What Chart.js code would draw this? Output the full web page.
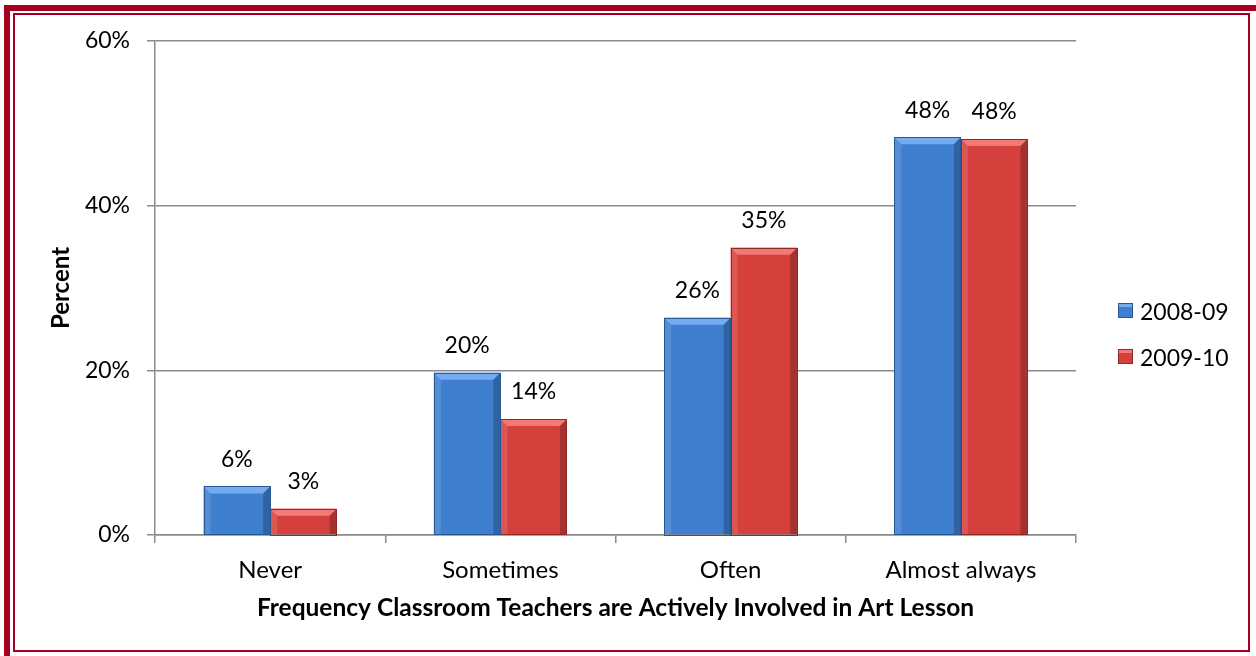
<!DOCTYPE html>
<html>
<head>
<meta charset="utf-8">
<script src="https://cdn.jsdelivr.net/npm/chart.js@4.4.0/dist/chart.umd.min.js"></script>
<style>
  body { margin: 0; background: #fff; overflow: hidden; font-family: Lato, sans-serif; }
  #wrap { position: relative; width: 1256px; height: 656px; }
  #frameOuter { position: absolute; left: 4px; top: 5px; width: 1300px; height: 700px; border: 6px solid #a50021; box-sizing: border-box; pointer-events: none; }
  #frameInner { position: absolute; left: 13px; top: 13px; width: 1237px; height: 639px; border: 2px solid #a50021; box-sizing: border-box; pointer-events: none; }
  #legend { position: absolute; left: 1118px; top: 298px; }
  .item { display: flex; align-items: center; height: 25px; margin-bottom: 21px; font-size: 23px; color: #000; }
  .swatch { width: 15px; height: 15px; box-sizing: border-box; margin-right: 7px; }
</style>
</head>
<body>
<div id="wrap">
  <canvas id="chart" width="1256" height="656"></canvas>
  <div id="frameOuter"></div>
  <div id="frameInner"></div>
  <div id="legend"></div>
</div>
<script>
// donnees du graphique
const categories = ['Never', 'Sometimes', 'Often', 'Almost always'];
const seriesLabels = ['2008-09', '2009-10'];
const values0809 = [5.9, 19.7, 26.4, 48.3];
const values0910 = [3.2, 14.1, 34.9, 48.1];
const yTickValues = [0, 20, 40, 60];

const fillColors = ['#3f7fd0', '#d5403d'];
const lightColors = ['#76abf0', '#f27a76'];
const darkColors = ['#2a5896', '#942826'];
const FONT = 'Lato';

// effet biseau sur les barres
const bevelPlugin = {
    id: 'bevel',
    afterDatasetDraw(chart, args) {
        const ctx = chart.ctx;
        const i = args.index;
        const b = 7;
        args.meta.data.forEach(bar => {
            const x0 = bar.x - bar.width / 2;
            const x1 = bar.x + bar.width / 2;
            const y0 = bar.y;
            const y1 = bar.base;
            const bb = Math.min(b, (y1 - y0) / 2);
            ctx.save();
            // haut
            ctx.fillStyle = lightColors[i];
            ctx.beginPath();
            ctx.moveTo(x0, y0); ctx.lineTo(x1, y0); ctx.lineTo(x1 - bb, y0 + bb); ctx.lineTo(x0 + bb, y0 + bb);
            ctx.closePath(); ctx.fill();
            // gauche
            ctx.fillStyle = 'rgba(255,255,255,0.12)';
            ctx.beginPath();
            ctx.moveTo(x0, y0); ctx.lineTo(x0 + bb, y0 + bb); ctx.lineTo(x0 + bb, y1); ctx.lineTo(x0, y1);
            ctx.closePath(); ctx.fill();
            // droite
            ctx.fillStyle = 'rgba(0,0,0,0.22)';
            ctx.beginPath();
            ctx.moveTo(x1, y0); ctx.lineTo(x1 - bb, y0 + bb); ctx.lineTo(x1 - bb, y1); ctx.lineTo(x1, y1);
            ctx.closePath(); ctx.fill();
            // contour
            ctx.strokeStyle = darkColors[i];
            ctx.lineWidth = 1;
            ctx.strokeRect(Math.round(x0) + 0.5, Math.round(y0) + 0.5, Math.round(x1 - x0) - 1, Math.round(y1 - y0));
            ctx.restore();
        });
    }
};

// etiquettes de valeurs au-dessus des barres
const valueLabels = {
    id: 'valueLabels',
    afterDatasetsDraw(chart) {
        const ctx = chart.ctx;
        ctx.save();
        ctx.font = '23px ' + FONT;
        ctx.fillStyle = '#000';
        ctx.textAlign = 'center';
        ctx.textBaseline = 'middle';
        chart.data.datasets.forEach((ds, i) => {
            chart.getDatasetMeta(i).data.forEach((bar, j) => {
                ctx.fillText(Math.round(ds.data[j]) + '%', bar.x, bar.y - 27);
            });
        });
        ctx.restore();
    }
};

function buildLegend(chart) {
    const box = document.getElementById('legend');
    chart.data.datasets.forEach((ds, i) => {
        const item = document.createElement('div');
        item.className = 'item';
        const sw = document.createElement('span');
        sw.className = 'swatch';
        sw.style.background = `linear-gradient(${lightColors[i]} 0 20%, ${fillColors[i]} 20% 100%)`;
        sw.style.border = '1px solid ' + darkColors[i];
        item.appendChild(sw);
        item.appendChild(document.createTextNode(ds.label));
        box.appendChild(item);
    });
}

const gridColor = '#8a8a8a';

document.fonts.load('24px ' + FONT).then(() => document.fonts.load('bold 24px ' + FONT)).then(() => {
    const ctx = document.getElementById('chart').getContext('2d');
    const chart = new Chart(ctx, {
        type: 'bar',
        data: {
            labels: categories,
            datasets: [
                { label: seriesLabels[0], data: values0809, backgroundColor: fillColors[0] },
                { label: seriesLabels[1], data: values0910, backgroundColor: fillColors[1] }
            ]
        },
        options: {
            responsive: false,
            animation: false,
            categoryPercentage: 0.578,
            barPercentage: 1,
            layout: { padding: { left: 43, right: 180, top: 41, bottom: 29 } },
            plugins: {
                legend: { display: false },
                tooltip: { enabled: false }
            },
            scales: {
                x: {
                    grid: { drawOnChartArea: false, drawTicks: true, tickLength: 8, color: gridColor, lineWidth: 1.5 },
                    border: { color: gridColor, width: 1.5 },
                    ticks: { color: '#000', padding: 13, font: { family: FONT, size: 24 } },
                    title: {
                        display: true,
                        text: 'Frequency Classroom Teachers are Actively Involved in Art Lesson',
                        color: '#000',
                        font: { family: FONT, size: 24.5, weight: 'bold' }
                    },
                    afterFit: s => { s.height = 92; }
                },
                y: {
                    min: yTickValues[0],
                    max: yTickValues[yTickValues.length - 1],
                    afterBuildTicks: s => { s.ticks = yTickValues.map(v => ({ value: v })); },
                    grid: { tickLength: 8, color: gridColor, lineWidth: 1.5 },
                    border: { color: gridColor, width: 1.5 },
                    ticks: { color: '#000', padding: 17, font: { family: FONT, size: 23 }, callback: v => v + '%' },
                    title: {
                        display: true,
                        text: 'Percent',
                        color: '#000',
                        font: { family: FONT, size: 24, weight: 'bold' }
                    },
                    afterFit: s => { s.width = 112; }
                }
            }
        },
        plugins: [bevelPlugin, valueLabels]
    });
    buildLegend(chart);
});
</script>
</body>
</html>
